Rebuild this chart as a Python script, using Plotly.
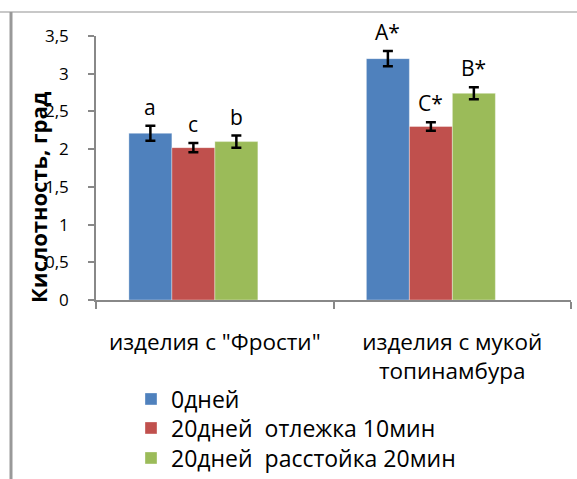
import plotly.graph_objects as go

# Data
categories = ['изделия с "Фрости"', 'изделия с мукой<br>топинамбура']
series_names = ["0дней", "20дней  отлежка 10мин", "20дней  расстойка 20мин"]
series_values = [
    [2.21, 3.20],
    [2.02, 2.30],
    [2.10, 2.74],
]
series_errors = [
    [0.10, 0.10],
    [0.06, 0.055],
    [0.08, 0.08],
]
series_letters = [
    ["a", "A*"],
    ["c", "C*"],
    ["b", "B*"],
]
colors = ["#4F81BD", "#C0504D", "#9BBB59"]
y_ticks = [0, 0.5, 1, 1.5, 2, 2.5, 3, 3.5]
y_ticktext = ["0", "0,5", "1", "1,5", "2", "2,5", "3", "3,5"]

W, H = 577, 479
ML, MR, MT, MB = 96, 6, 36, 179
PW, PH = W - ML - MR, H - MT - MB
FONT = "Open Sans, sans-serif"

# Bar geometry in category units (group sits left of the category centre)
BAR_W = 0.181
GROUP_SHIFT = -0.09
bar_offsets = [GROUP_SHIFT + (k - 1.5) * BAR_W for k in range(3)]


def px_x(px):
    return (px - ML) / PW


def px_y(py):
    return (H - MB - py) / PH


fig = go.Figure()
legend_ids = ["legend", "legend2", "legend3"]
for i, name in enumerate(series_names):
    fig.add_trace(go.Bar(
        x=categories,
        y=series_values[i],
        name=name,
        offset=bar_offsets[i],
        width=BAR_W,
        marker=dict(color=colors[i], line=dict(color="rgba(255,255,255,0.35)", width=1)),
        error_y=dict(type="data", array=series_errors[i], color="black",
                     thickness=2.5, width=5),
        legend=legend_ids[i],
    ))

# Significance letters above the error bars
annotations = []
for i in range(3):
    for j in range(len(categories)):
        annotations.append(dict(
            x=j + bar_offsets[i] + BAR_W / 2, xref="x",
            y=series_values[i][j] + series_errors[i][j], yref="y",
            text=series_letters[i][j], showarrow=False,
            yanchor="bottom", yshift=3,
            font=dict(family=FONT, size=21, color="black"),
        ))

# Y-axis title
annotations.append(dict(
    x=px_x(38), xref="paper", y=px_y(197), yref="paper",
    text="<b>Кислотность, град</b>", textangle=-90, showarrow=False,
    xanchor="center", yanchor="middle",
    font=dict(family=FONT, size=22, color="black"),
))

# Frame lines of the chart area
shapes = [
    dict(type="line", xref="paper", yref="paper",
         x0=px_x(0), x1=px_x(W), y0=px_y(12), y1=px_y(12),
         line=dict(color="#C8C8C8", width=2)),
    dict(type="line", xref="paper", yref="paper",
         x0=px_x(11), x1=px_x(11), y0=px_y(12), y1=px_y(H),
         line=dict(color="#999999", width=3)),
]

legend_rows = [399, 428, 458]
legend_common = dict(
    font=dict(family=FONT, size=23, color="black"),
    bgcolor="rgba(0,0,0,0)", borderwidth=0,
    xanchor="left", yanchor="middle",
    x=px_x(131), xref="paper", yref="paper",
)
legend_layout = {}
for k, lid in enumerate(legend_ids):
    legend_layout[lid] = dict(legend_common, y=px_y(legend_rows[k]))

fig.update_layout(
    width=W, height=H,
    margin=dict(l=ML, r=MR, t=MT, b=MB, autoexpand=False),
    paper_bgcolor="white", plot_bgcolor="white",
    barmode="overlay",
    font=dict(family=FONT, color="black"),
    showlegend=True,
    annotations=annotations,
    shapes=shapes,
    xaxis=dict(
        type="category", tickson="boundaries",
        ticks="outside", ticklen=7, tickcolor="#888888", tickwidth=1.5,
        showline=True, linecolor="#888888", linewidth=1.5,
        showgrid=False, zeroline=False,
        tickfont=dict(family=FONT, size=22.5, color="black"),
        ticklabelstandoff=21,
    ),
    yaxis=dict(
        range=[0, 3.5], tickvals=y_ticks, ticktext=y_ticktext,
        ticks="outside", ticklen=6, tickcolor="#888888", tickwidth=1.5,
        showline=True, linecolor="#888888", linewidth=1.5,
        showgrid=False, zeroline=False,
        tickfont=dict(family=FONT, size=17, color="black"),
        ticklabelstandoff=16,
    ),
    **legend_layout,
)

fig.write_html("out.html")
